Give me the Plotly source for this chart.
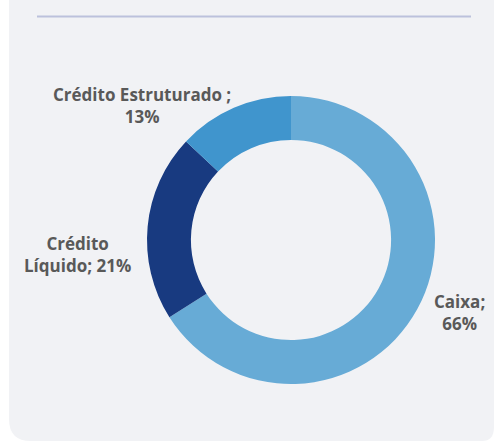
import plotly.graph_objects as go

# ~~~~~~~~~~~~ Data ~~~~~~~~~~~~~~~~
categories = ["Caixa", "Crédito Líquido", "Crédito Estruturado "]
shares = [66, 21, 13]
slice_colors = ["#67abd6", "#183a80", "#4095cd"]

# label text as printed next to each slice (line breaks follow the picture)
label_text = [
    "Caixa;<br>66%",
    "Crédito<br>Líquido; 21%",
    "Crédito Estruturado ;<br>13%",
]
label_pos = [(459, 312), (77, 254), (142, 105)]  # px, from top-left

W, H = 494, 441
cx, cy, r = 291, 240, 144


def to_paper(x, y):
    return x / W, 1 - y / H


fig = go.Figure(
    go.Pie(
        labels=categories,
        values=shares,
        hole=0.695,
        sort=False,
        direction="clockwise",
        rotation=0,
        marker=dict(colors=slice_colors, line=dict(width=0)),
        textinfo="none",
        hoverinfo="label+percent",
        showlegend=False,
        domain=dict(
            x=[(cx - r) / W, (cx + r) / W],
            y=[(H - cy - r) / H, (H - cy + r) / H],
        ),
    )
)

# ~~~~~~~~~~~~ Panel + top rule ~~~~~~~~~~~~~~~~
rad = 22
pts = [
    ("M", [(9, -5)]),
    ("L", [(9, H - rad)]),
    ("Q", [(9, H), (9 + rad, H)]),
    ("L", [(W - 12, H)]),
    ("Q", [(W, H), (W, H - 14)]),
    ("L", [(W, -5)]),
]
path = ""
for cmd, coords in pts:
    path += cmd + " " + " ".join(
        "{:.5f},{:.5f}".format(*to_paper(x, y)) for x, y in coords
    ) + " "
path += "Z"

fig.add_shape(
    type="path",
    path=path,
    xref="paper",
    yref="paper",
    fillcolor="#f1f2f5",
    line=dict(width=0),
    layer="below",
)
fig.add_shape(
    type="line",
    x0=37 / W,
    x1=471 / W,
    y0=1 - 16.5 / H,
    y1=1 - 16.5 / H,
    xref="paper",
    yref="paper",
    line=dict(color="#bcc1dc", width=2),
)

for txt, (px_, py_) in zip(label_text, label_pos):
    x, y = to_paper(px_, py_)
    fig.add_annotation(
        x=x,
        y=y,
        xref="paper",
        yref="paper",
        xanchor="center",
        yanchor="middle",
        text=f"<b>{txt}</b>",
        showarrow=False,
        align="center",
        font=dict(family="Open Sans", size=17, color="#595959"),
    )

fig.update_layout(
    width=W,
    height=H,
    margin={"r": 0, "t": 0, "l": 0, "b": 0},
    paper_bgcolor="white",
    plot_bgcolor="white",
)

fig.write_html(
    "out.html",
    config={"displayModeBar": False},
    post_script="document.body.style.margin='0';document.body.style.overflow='hidden';",
)
